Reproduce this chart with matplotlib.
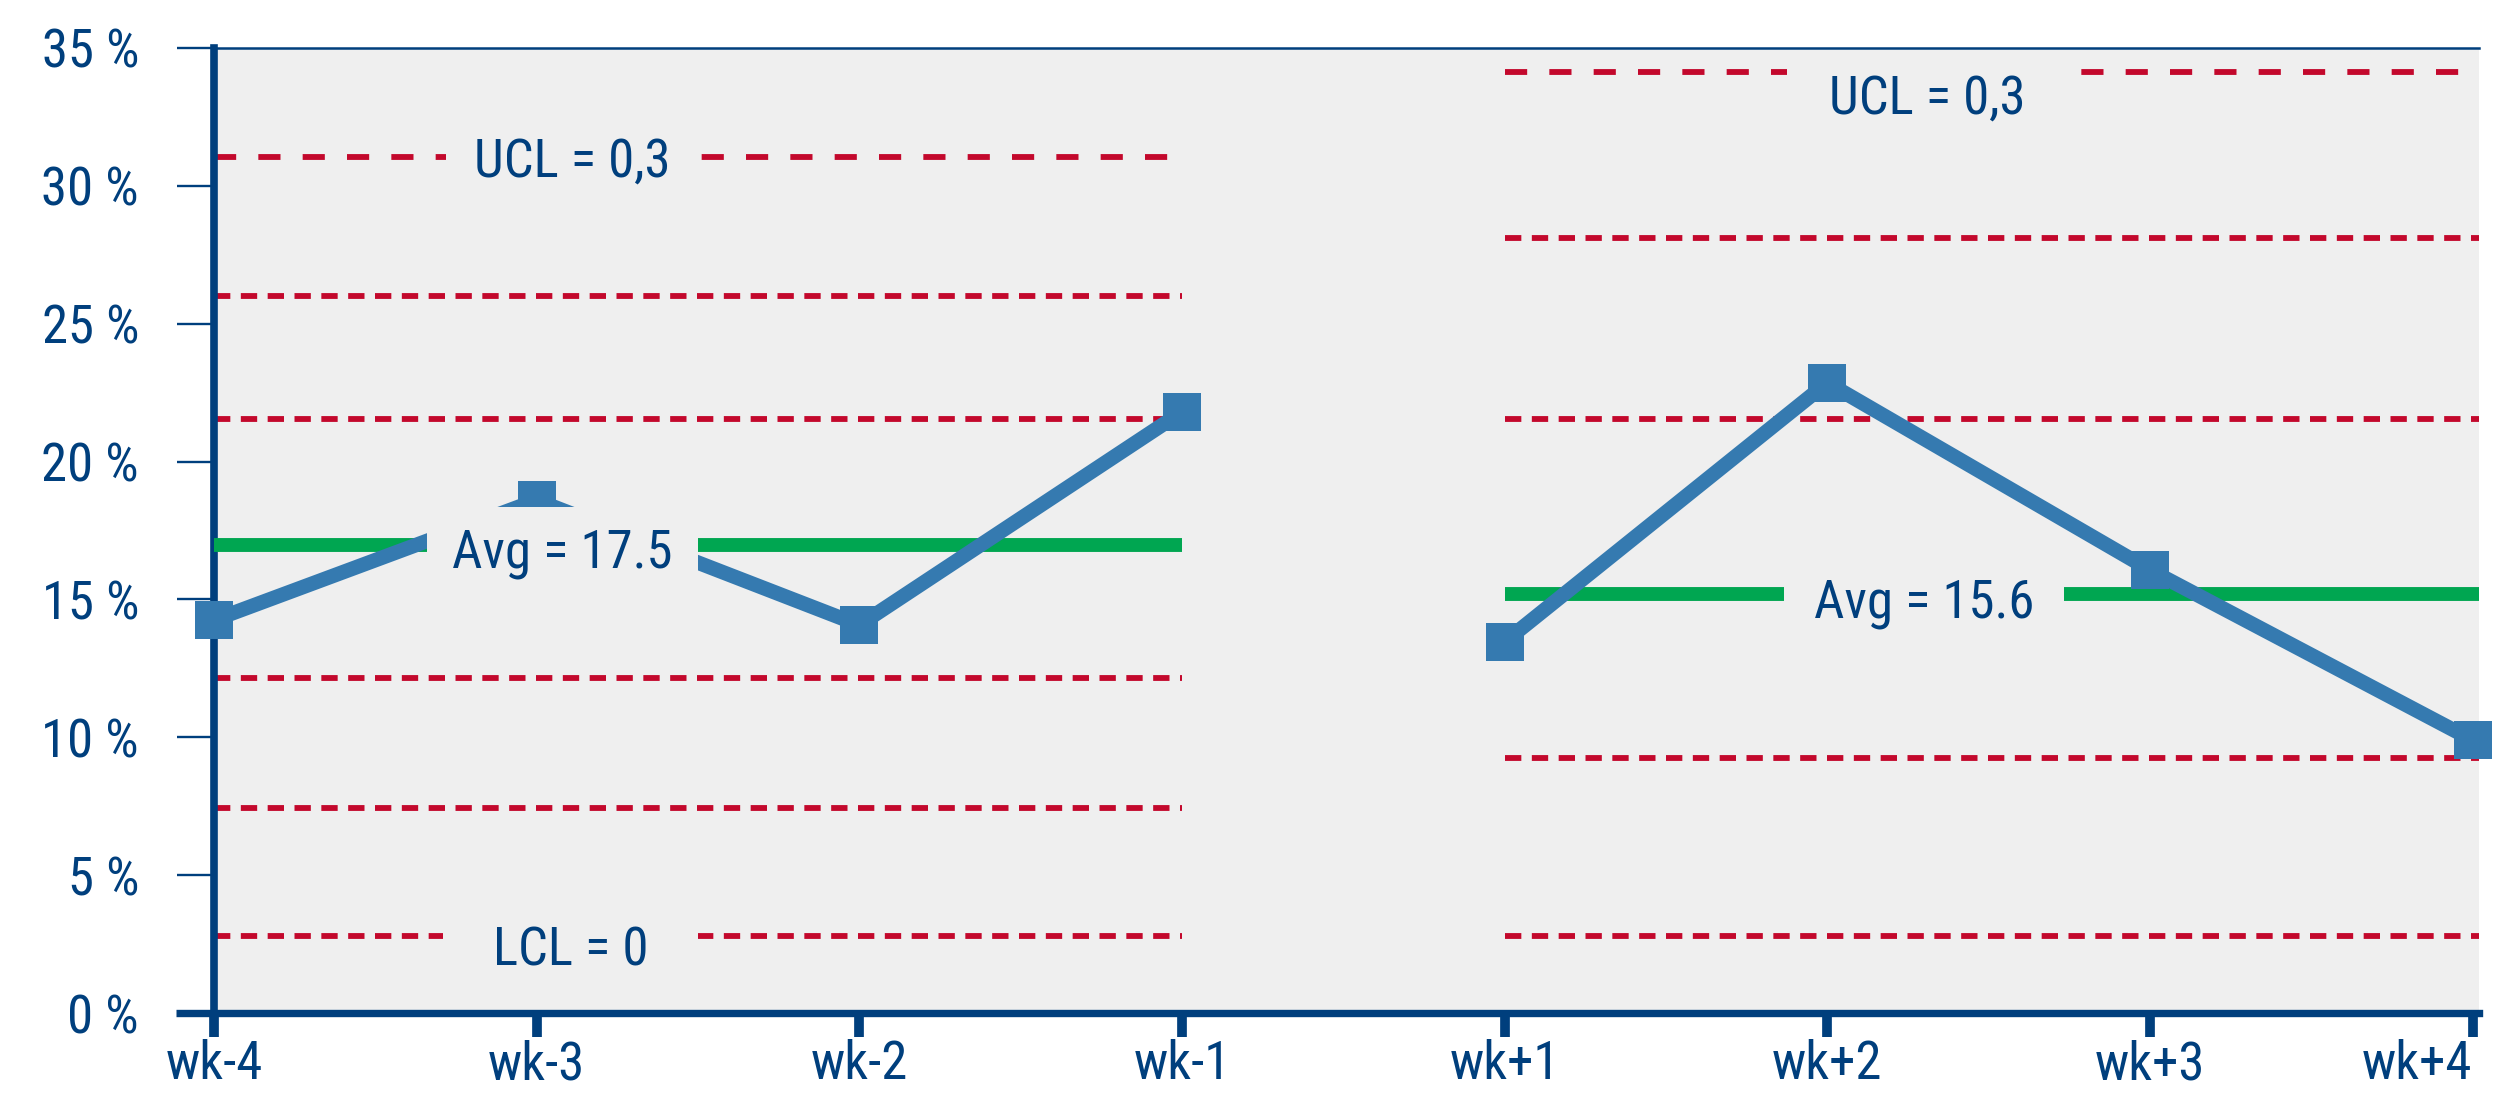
"""
Control chart: weekly rate before / after, with average, sigma and control limits.
"""

import matplotlib
matplotlib.use("Agg")
import matplotlib.pyplot as plt
from matplotlib.patches import Rectangle

# --- data ---
WEEKS = ["wk-4", "wk-3", "wk-2", "wk-1", "wk+1", "wk+2", "wk+3", "wk+4"]
RATE_BEFORE = [14.25, 18.6, 14.07, 21.8]
RATE_AFTER = [13.46, 22.86, 16.07, 9.9]
Y_TICKS = [0, 5, 10, 15, 20, 25, 30, 35]

AVG_BEFORE = 16.97
AVG_AFTER = 15.2
UCL_BEFORE = 31.05
UCL_AFTER = 34.13
SIGMA_BEFORE = [26.0, 21.55, 12.15, 7.44, 2.79]
SIGMA_AFTER = [28.1, 21.55, 9.25, 2.79]

LABEL_AVG_BEFORE = "Avg = 17.5"
LABEL_AVG_AFTER = "Avg = 15.6"
LABEL_UCL = "UCL = 0,3"
LABEL_LCL = "LCL = 0"

# --- style ---
NAVY = "#003f7d"
BLUE = "#357ab0"
GREEN = "#00a651"
RED = "#c3082c"
BG = "#efefef"
FS = 38

plt.rcParams["font.family"] = ["Roboto Condensed", "Roboto", "DejaVu Sans"]


def label(ax, x, y, text, w, h=3.1):
    # caixa cinza que esconde as linhas atrás do texto
    cy = y + 0.68
    ax.add_patch(Rectangle((x - w / 2, cy - h / 2), w, h, fc=BG, ec="none", zorder=5))
    ax.text(x, y, text, ha="center", va="baseline", fontsize=FS, color=NAVY, zorder=6)


def main():
    fig = plt.figure(figsize=(25.08, 11.06), dpi=100)
    ax = fig.add_axes([214 / 2508, 93 / 1106, 2265 / 2508, 965 / 1106])
    ax.set_facecolor(BG)
    ax.set_xlim(0, 7.02)
    ax.set_ylim(0, 35)
    x_end = ax.get_xlim()[1]

    n = len(RATE_BEFORE)
    x_before = list(range(n))
    x_after = list(range(n, n + len(RATE_AFTER)))

    # limites (vermelho tracejado)
    lw_red = 4.2
    short = (0, (2.8, 1.8))
    long = (0, (3.8, 3.8))
    ax.hlines(UCL_BEFORE, x_before[0], x_before[-1], color=RED, lw=lw_red, linestyles=[long], zorder=2)
    ax.hlines(UCL_AFTER, x_after[0], x_end, color=RED, lw=lw_red, linestyles=[long], zorder=2)
    for y in SIGMA_BEFORE:
        ax.hlines(y, x_before[0], x_before[-1], color=RED, lw=lw_red, linestyles=[short], zorder=2)
    for y in SIGMA_AFTER:
        ax.hlines(y, x_after[0], x_end, color=RED, lw=lw_red, linestyles=[short], zorder=2)

    # médias
    ax.hlines(AVG_BEFORE, x_before[0], x_before[-1], color=GREEN, lw=10, zorder=3)
    ax.hlines(AVG_AFTER, x_after[0], x_end, color=GREEN, lw=10, zorder=3)

    # séries
    for xs, ys in [(x_before, RATE_BEFORE), (x_after, RATE_AFTER)]:
        ax.plot(xs, ys, color=BLUE, lw=10.5, marker="s", ms=27.4, mew=0,
                solid_joinstyle="miter", clip_on=False, zorder=4)

    label(ax, 1.11, 30.32, LABEL_UCL, 0.78)
    label(ax, 1.105, 1.74, LABEL_LCL, 0.79)
    label(ax, 1.08, 16.14, LABEL_AVG_BEFORE, 0.84)
    label(ax, 5.31, 32.64, LABEL_UCL, 0.87)
    label(ax, 5.3, 14.33, LABEL_AVG_AFTER, 0.87)

    # eixos
    ax.spines["right"].set_visible(False)
    ax.spines["left"].set_linewidth(5.5)
    ax.spines["left"].set_color(NAVY)
    ax.spines["bottom"].set_linewidth(5.3)
    ax.spines["bottom"].set_color(NAVY)
    ax.spines["top"].set_linewidth(1.8)
    ax.spines["top"].set_color(NAVY)
    ax.spines["top"].set_zorder(7)
    ax.axhline(0, xmin=-38 / 2265, xmax=0, color=NAVY, lw=5.3, clip_on=False,
               solid_capstyle="butt")

    ax.set_yticks(Y_TICKS)
    ax.set_yticklabels([f"{v} %" for v in Y_TICKS])
    ax.set_xticks(range(len(WEEKS)))
    ax.set_xticklabels(WEEKS)
    ax.tick_params(axis="y", length=27, width=1.7, pad=27, labelsize=FS,
                   color=NAVY, labelcolor=NAVY)
    ax.tick_params(axis="x", length=17, width=7, pad=2, labelsize=FS,
                   color=NAVY, labelcolor=NAVY)
    # último rótulo encostado na borda direita
    ax.get_xticklabels()[-1].set_horizontalalignment("right")

    fig.savefig("out.png", dpi=100, facecolor="white")
    plt.close(fig)


if __name__ == "__main__":
    main()
